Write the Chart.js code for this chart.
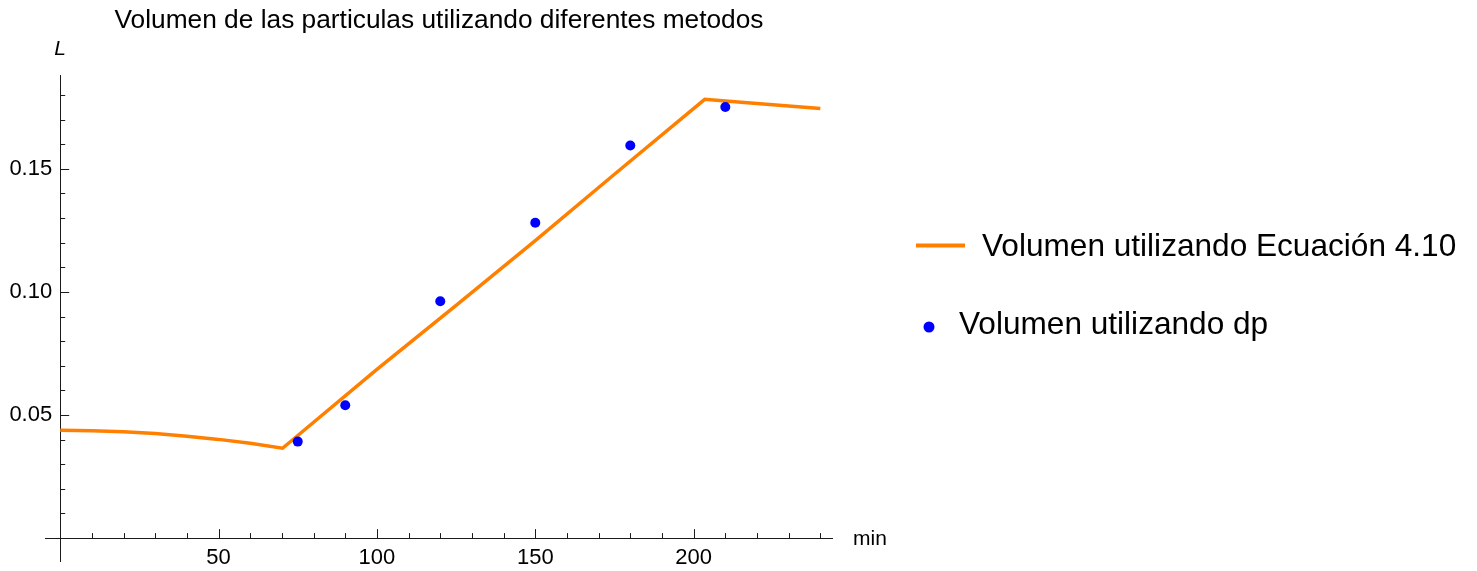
<!DOCTYPE html>
<html>
<head>
<meta charset="utf-8">
<script src="https://cdn.jsdelivr.net/npm/chart.js@4.4.1/dist/chart.umd.min.js"></script>
<style>
  html, body { margin: 0; padding: 0; background: #fff; }
  #wrap { width: 1477px; height: 571px; }
</style>
</head>
<body>
<div id="wrap"><canvas id="plot"></canvas></div>
<script>
// volume from equation 4.10 (line)
const eqTimes = [0, 10, 20, 30, 40, 50, 60, 70.2, 100, 125, 150, 175, 203.5, 215, 225, 240];
const eqVolumes = [0.0438, 0.04365, 0.0432, 0.0425, 0.0414, 0.0401, 0.0385, 0.0365,
  0.0685, 0.0945, 0.1208, 0.1478, 0.1782, 0.1770, 0.1760, 0.1745];

// volume from dp (points)
const dpTimes = [75, 90, 120, 150, 180, 210];
const dpVolumes = [0.0392, 0.0540, 0.0962, 0.1281, 0.1595, 0.1751];

const xMajorTicks = [50, 100, 150, 200];
const xTickLabels = ["50", "100", "150", "200"];
const yMajorTicks = [0.05, 0.10, 0.15];
const yTickLabels = ["0.05", "0.10", "0.15"];

const seriesNames = ["Volumen utilizando Ecuación 4.10", "Volumen utilizando dp"];
const titleText = "Volumen de las particulas utilizando diferentes metodos";

const FONT = "'Liberation Sans', Arial, sans-serif";
const ORANGE = "#ff8000";
const BLUE = "#0000ff";

function toXY(xs, ys) {
  return xs.map((x, i) => ({ x: x, y: ys[i] }));
}

let xMinorTicks = [];
for (let t = 10; t <= 240; t += 10) {
  if (!xMajorTicks.includes(t)) xMinorTicks.push(t);
}
let yMinorTicks = [];
for (let k = 1; k <= 18; k++) {
  const v = k / 100;
  if (!yMajorTicks.some(m => Math.abs(m - v) < 1e-9)) yMinorTicks.push(v);
}

// axes through the origin with inward ticks, plus title, axis names and legend
const framePlugin = {
  id: "frame",
  beforeDatasetsDraw(chart) {
    const ctx = chart.ctx;
    const xs = chart.scales.x, ys = chart.scales.y;
    const area = chart.chartArea;
    const x0 = xs.getPixelForValue(0);
    const y0 = ys.getPixelForValue(0);

    ctx.save();
    ctx.strokeStyle = "#1a1a1a";
    ctx.lineWidth = 1;
    ctx.beginPath();
    ctx.moveTo(area.left, Math.round(y0) + 0.5);
    ctx.lineTo(area.right, Math.round(y0) + 0.5);
    ctx.moveTo(Math.round(x0) + 0.5, area.bottom);
    ctx.lineTo(Math.round(x0) + 0.5, area.top);

    xMajorTicks.forEach(t => {
      const px = Math.round(xs.getPixelForValue(t)) + 0.5;
      ctx.moveTo(px, y0); ctx.lineTo(px, y0 - 9);
    });
    xMinorTicks.forEach(t => {
      const px = Math.round(xs.getPixelForValue(t)) + 0.5;
      ctx.moveTo(px, y0); ctx.lineTo(px, y0 - 5);
    });
    yMajorTicks.forEach(t => {
      const py = Math.round(ys.getPixelForValue(t)) + 0.5;
      ctx.moveTo(x0, py); ctx.lineTo(x0 + 9, py);
    });
    yMinorTicks.forEach(t => {
      const py = Math.round(ys.getPixelForValue(t)) + 0.5;
      ctx.moveTo(x0, py); ctx.lineTo(x0 + 5, py);
    });
    ctx.stroke();

    ctx.fillStyle = "#000";
    ctx.font = "22px " + FONT;
    ctx.textAlign = "center";
    ctx.textBaseline = "top";
    xMajorTicks.forEach((t, i) => {
      ctx.fillText(xTickLabels[i], xs.getPixelForValue(t), y0 + 9);
    });
    ctx.textAlign = "right";
    ctx.textBaseline = "middle";
    yMajorTicks.forEach((t, i) => {
      ctx.fillText(yTickLabels[i], x0 - 8, ys.getPixelForValue(t));
    });

    // axis names
    ctx.font = "21px " + FONT;
    ctx.textAlign = "left";
    ctx.fillText("min", area.right + 20, y0 + 1);
    ctx.font = "italic 21px " + FONT;
    ctx.textAlign = "center";
    ctx.fillText("L", x0, 49);

    // title
    ctx.font = "26.3px " + FONT;
    ctx.textAlign = "center";
    ctx.textBaseline = "alphabetic";
    ctx.fillText(titleText, (area.left + area.right) / 2, 28);
    ctx.restore();
  },
  afterDraw(chart) {
    const ctx = chart.ctx;
    ctx.save();
    ctx.font = "31.6px " + FONT;
    ctx.fillStyle = "#000";
    ctx.textAlign = "left";
    ctx.textBaseline = "alphabetic";

    ctx.strokeStyle = ORANGE;
    ctx.lineWidth = 4;
    ctx.beginPath();
    ctx.moveTo(916, 245.5);
    ctx.lineTo(965, 245.5);
    ctx.stroke();
    ctx.fillText(seriesNames[0], 982, 256);

    ctx.fillStyle = BLUE;
    ctx.beginPath();
    ctx.arc(929, 327, 5.5, 0, Math.PI * 2);
    ctx.fill();
    ctx.fillStyle = "#000";
    ctx.fillText(seriesNames[1], 959, 334);
    ctx.restore();
  }
};

new Chart(document.getElementById("plot").getContext("2d"), {
  type: "scatter",
  data: {
    datasets: [
      {
        label: seriesNames[0],
        data: toXY(eqTimes, eqVolumes),
        showLine: true,
        borderColor: ORANGE,
        borderWidth: 3.5,
        pointRadius: 0,
        tension: 0,
        fill: false,
        order: 2
      },
      {
        label: seriesNames[1],
        data: toXY(dpTimes, dpVolumes),
        showLine: false,
        backgroundColor: BLUE,
        borderColor: BLUE,
        borderWidth: 0,
        pointRadius: 5,
        order: 1
      }
    ]
  },
  options: {
    responsive: true,
    maintainAspectRatio: false,
    animation: false,
    events: [],
    layout: { padding: { left: 45, top: 75, right: 644, bottom: 9 } },
    plugins: {
      legend: { display: false },
      title: { display: false },
      tooltip: { enabled: false }
    },
    scales: {
      x: { type: "linear", display: false, min: -4.8, max: 244.0 },
      y: { type: "linear", display: false, min: -0.0097, max: 0.1881 }
    }
  },
  plugins: [framePlugin]
});
</script>
</body>
</html>
